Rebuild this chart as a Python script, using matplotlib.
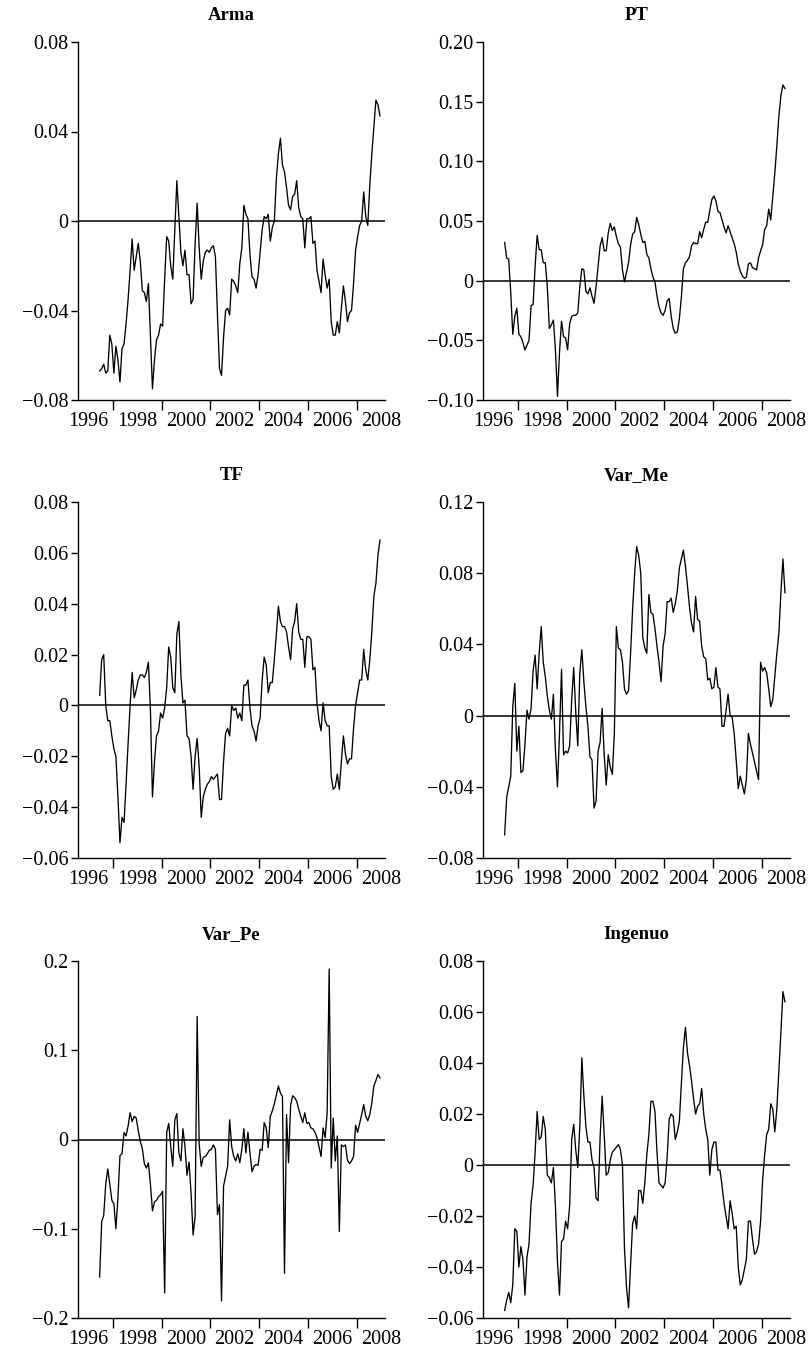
import matplotlib
matplotlib.use('Agg')
import matplotlib.pyplot as plt
import pandas as pd
from matplotlib.ticker import FixedLocator, FuncFormatter

plt.rcParams['font.family'] = ['Liberation Serif', 'DejaVu Serif']

# monthly observations, June 1996 .. December 2007
months = pd.period_range('1996-06', '2007-12', freq='M')
x = months.year + (months.month - 0.5) / 12

arma = [-0.067, -0.066, -0.064, -0.068, -0.067, -0.051, -0.055, -0.068, -0.056, -0.062,
        -0.072, -0.057, -0.055, -0.046, -0.035, -0.022, -0.008, -0.022, -0.016, -0.010,
        -0.018, -0.031, -0.032, -0.036, -0.028, -0.052, -0.075, -0.062, -0.053, -0.051,
        -0.046, -0.047, -0.026, -0.007, -0.009, -0.020, -0.026, -0.004, 0.018, 0.002,
        -0.014, -0.020, -0.013, -0.024, -0.024, -0.037, -0.035, -0.010, 0.008, -0.012,
        -0.026, -0.018, -0.014, -0.013, -0.014, -0.012, -0.011, -0.016, -0.042, -0.066,
        -0.069, -0.052, -0.040, -0.039, -0.042, -0.026, -0.027, -0.029, -0.032, -0.019,
        -0.012, 0.007, 0.003, 0.001, -0.015, -0.025, -0.026, -0.030, -0.024, -0.014,
        -0.004, 0.002, 0.001, 0.003, -0.009, -0.003, 0.000, 0.019, 0.030, 0.037,
        0.025, 0.022, 0.015, 0.007, 0.005, 0.011, 0.012, 0.018, 0.006, 0.002,
        0.001, -0.012, 0.001, 0.001, 0.002, -0.010, -0.009, -0.022, -0.027, -0.032,
        -0.017, -0.024, -0.030, -0.026, -0.045, -0.051, -0.051, -0.045, -0.050, -0.039,
        -0.029, -0.036, -0.045, -0.041, -0.040, -0.028, -0.013, -0.007, -0.002, 0.000,
        0.013, 0.002, -0.002, 0.016, 0.030, 0.042, 0.054, 0.052, 0.047]

pt = [0.032, 0.019, 0.018, -0.010, -0.045, -0.030, -0.023, -0.045, -0.047, -0.052,
      -0.058, -0.054, -0.050, -0.021, -0.020, 0.012, 0.038, 0.026, 0.026, 0.015,
      0.015, -0.005, -0.040, -0.037, -0.033, -0.058, -0.097, -0.060, -0.034, -0.047,
      -0.048, -0.058, -0.036, -0.030, -0.029, -0.029, -0.027, -0.005, 0.010, 0.009,
      -0.009, -0.011, -0.006, -0.013, -0.019, -0.005, 0.012, 0.029, 0.036, 0.025,
      0.025, 0.040, 0.048, 0.042, 0.045, 0.037, 0.031, 0.028, 0.009, -0.001,
      0.007, 0.015, 0.030, 0.039, 0.041, 0.053, 0.047, 0.039, 0.032, 0.033,
      0.022, 0.019, 0.010, 0.003, -0.001, -0.013, -0.022, -0.027, -0.029, -0.025,
      -0.017, -0.015, -0.030, -0.040, -0.044, -0.043, -0.032, -0.014, 0.010, 0.015,
      0.017, 0.020, 0.029, 0.032, 0.031, 0.031, 0.041, 0.036, 0.043, 0.049,
      0.049, 0.059, 0.068, 0.071, 0.067, 0.058, 0.057, 0.051, 0.045, 0.040,
      0.046, 0.041, 0.036, 0.031, 0.024, 0.014, 0.008, 0.004, 0.002, 0.003,
      0.014, 0.015, 0.011, 0.010, 0.009, 0.019, 0.025, 0.030, 0.043, 0.046,
      0.060, 0.051, 0.071, 0.090, 0.113, 0.138, 0.155, 0.164, 0.161]

tf = [0.004, 0.018, 0.020, 0.000, -0.006, -0.006, -0.012, -0.017, -0.020, -0.036,
      -0.054, -0.044, -0.046, -0.031, -0.015, 0.000, 0.013, 0.003, 0.006, 0.010,
      0.012, 0.012, 0.011, 0.013, 0.017, -0.002, -0.036, -0.022, -0.012, -0.010,
      -0.003, -0.005, -0.001, 0.007, 0.023, 0.019, 0.007, 0.005, 0.028, 0.033,
      0.012, 0.001, 0.002, -0.012, -0.013, -0.020, -0.033, -0.020, -0.013, -0.024,
      -0.044, -0.036, -0.033, -0.031, -0.030, -0.028, -0.029, -0.028, -0.027, -0.037,
      -0.037, -0.022, -0.011, -0.009, -0.012, 0.000, -0.002, -0.001, -0.005, -0.003,
      -0.006, 0.008, 0.008, 0.010, -0.001, -0.008, -0.010, -0.014, -0.008, -0.005,
      0.010, 0.019, 0.016, 0.005, 0.009, 0.009, 0.018, 0.028, 0.039, 0.033,
      0.031, 0.031, 0.029, 0.023, 0.018, 0.030, 0.033, 0.040, 0.029, 0.026,
      0.026, 0.015, 0.027, 0.027, 0.026, 0.014, 0.015, 0.001, -0.006, -0.010,
      0.001, -0.006, -0.008, -0.008, -0.028, -0.033, -0.032, -0.027, -0.033, -0.022,
      -0.012, -0.019, -0.023, -0.021, -0.021, -0.009, 0.000, 0.005, 0.010, 0.010,
      0.022, 0.014, 0.010, 0.018, 0.029, 0.043, 0.048, 0.059, 0.065]

var_me = [-0.067, -0.046, -0.040, -0.034, 0.005, 0.018, -0.020, -0.006, -0.032, -0.031,
          -0.016, 0.003, -0.002, 0.004, 0.025, 0.034, 0.015, 0.035, 0.050, 0.030,
          0.022, 0.011, 0.003, -0.002, 0.012, -0.020, -0.040, -0.010, 0.026, -0.022,
          -0.020, -0.021, -0.017, 0.009, 0.027, 0.002, -0.017, 0.024, 0.037, 0.019,
          0.005, -0.006, -0.023, -0.025, -0.052, -0.048, -0.020, -0.015, 0.004, -0.022,
          -0.039, -0.022, -0.029, -0.033, -0.010, 0.050, 0.038, 0.037, 0.030, 0.015,
          0.012, 0.014, 0.035, 0.060, 0.080, 0.095, 0.090, 0.080, 0.044, 0.038,
          0.035, 0.068, 0.058, 0.057, 0.049, 0.039, 0.030, 0.019, 0.039, 0.046,
          0.064, 0.064, 0.066, 0.058, 0.063, 0.070, 0.083, 0.088, 0.093, 0.084,
          0.073, 0.061, 0.052, 0.047, 0.067, 0.054, 0.053, 0.039, 0.033, 0.032,
          0.020, 0.021, 0.015, 0.016, 0.027, 0.016, 0.015, -0.006, -0.006, 0.003,
          0.012, 0.000, -0.001, -0.010, -0.025, -0.041, -0.034, -0.039, -0.044, -0.036,
          -0.010, -0.016, -0.021, -0.026, -0.031, -0.036, 0.030, 0.025, 0.027, 0.024,
          0.015, 0.005, 0.009, 0.022, 0.035, 0.046, 0.069, 0.088, 0.069]

var_pe = [-0.154, -0.092, -0.085, -0.050, -0.033, -0.050, -0.068, -0.072, -0.100, -0.065,
          -0.018, -0.016, 0.008, 0.004, 0.015, 0.030, 0.020, 0.026, 0.024, 0.010,
          -0.002, -0.010, -0.027, -0.032, -0.026, -0.050, -0.080, -0.070, -0.068, -0.064,
          -0.062, -0.058, -0.172, 0.008, 0.018, -0.008, -0.030, 0.022, 0.029, -0.015,
          -0.024, 0.012, -0.008, -0.040, -0.025, -0.060, -0.107, -0.086, 0.138, -0.005,
          -0.030, -0.020, -0.019, -0.016, -0.012, -0.011, -0.006, -0.011, -0.084, -0.073,
          -0.181, -0.052, -0.041, -0.030, 0.022, -0.008, -0.019, -0.024, -0.016, -0.026,
          -0.011, 0.012, -0.015, 0.008, -0.015, -0.036, -0.030, -0.028, -0.029, -0.011,
          -0.012, 0.019, 0.013, -0.009, 0.026, 0.032, 0.040, 0.050, 0.060, 0.052,
          0.048, -0.150, 0.028, -0.026, 0.038, 0.049, 0.047, 0.043, 0.034, 0.026,
          0.019, 0.030, 0.018, 0.019, 0.013, 0.012, 0.008, 0.002, -0.008, -0.019,
          0.013, 0.002, 0.030, 0.191, -0.032, 0.024, -0.024, 0.004, -0.103, -0.006,
          -0.008, -0.006, -0.023, -0.027, -0.024, -0.019, 0.016, 0.008, 0.018, 0.028,
          0.039, 0.026, 0.021, 0.028, 0.041, 0.060, 0.066, 0.073, 0.069]

ingenuo = [-0.057, -0.053, -0.050, -0.054, -0.047, -0.025, -0.026, -0.040, -0.032, -0.037,
           -0.051, -0.036, -0.031, -0.015, -0.008, 0.005, 0.021, 0.010, 0.011, 0.019,
           0.014, -0.004, -0.005, -0.007, -0.001, -0.016, -0.038, -0.051, -0.030, -0.029,
           -0.022, -0.025, -0.016, 0.010, 0.016, 0.006, -0.001, 0.015, 0.042, 0.027,
           0.015, 0.009, 0.009, 0.002, -0.001, -0.013, -0.014, 0.011, 0.027, 0.012,
           -0.004, -0.003, 0.002, 0.005, 0.006, 0.007, 0.008, 0.006, 0.000, -0.033,
           -0.048, -0.056, -0.039, -0.023, -0.020, -0.025, -0.010, -0.010, -0.015, -0.007,
           0.004, 0.012, 0.025, 0.025, 0.021, 0.005, -0.007, -0.008, -0.009, -0.007,
           0.003, 0.018, 0.020, 0.019, 0.010, 0.013, 0.017, 0.032, 0.046, 0.054,
           0.044, 0.039, 0.033, 0.026, 0.020, 0.023, 0.024, 0.030, 0.020, 0.014,
           0.010, -0.004, 0.006, 0.009, 0.009, -0.002, -0.002, -0.008, -0.015, -0.020,
           -0.025, -0.014, -0.019, -0.025, -0.024, -0.040, -0.047, -0.045, -0.041, -0.037,
           -0.022, -0.022, -0.029, -0.035, -0.034, -0.031, -0.022, -0.006, 0.004, 0.012,
           0.014, 0.024, 0.022, 0.013, 0.022, 0.037, 0.052, 0.068, 0.064]

titles = ["Arma", "PT", "TF", "Var_Me", "Var_Pe", "Ingenuo"]
series = [arma, pt, tf, var_me, var_pe, ingenuo]
yticks = [
    [-0.08, -0.04, 0, 0.04, 0.08],
    [-0.10, -0.05, 0, 0.05, 0.10, 0.15, 0.20],
    [-0.06, -0.04, -0.02, 0, 0.02, 0.04, 0.06, 0.08],
    [-0.08, -0.04, 0, 0.04, 0.08, 0.12],
    [-0.2, -0.1, 0, 0.1, 0.2],
    [-0.06, -0.04, -0.02, 0, 0.02, 0.04, 0.06, 0.08],
]
decimals = [2, 2, 2, 2, 1, 2]
year_labels = [1996, 1998, 2000, 2002, 2004, 2006, 2008]
year_ticks = list(range(1996, 2008))

W, H = 808, 1353
fig = plt.figure(figsize=(W / 100, H / 100), dpi=100)

col_left = [78, 483]
ax_w = 307
rows = [(42, 400), (502, 858), (961, 1318)]


def make_fmt(d):
    def f(v, pos):
        if abs(v) < 1e-12:
            return "0"
        s = f"{abs(v):.{d}f}"
        return ("\u2212" + s) if v < 0 else s
    return f


for k in range(6):
    r, c = divmod(k, 2)
    top, bot = rows[r]
    ax = fig.add_axes([col_left[c] / W, 1 - bot / H, ax_w / W, (bot - top) / H])
    ax.plot(x, series[k], color='black', lw=0.95)
    ax.axhline(0, color='black', lw=1.1)
    ax.set_xlim(1995.57, 2008.165)
    ax.set_ylim(yticks[k][0], yticks[k][-1])
    ax.yaxis.set_major_locator(FixedLocator(yticks[k]))
    ax.yaxis.set_major_formatter(FuncFormatter(make_fmt(decimals[k])))
    ax.xaxis.set_major_locator(FixedLocator(year_labels))
    ax.xaxis.set_major_formatter(FuncFormatter(lambda v, p: f"{int(round(v))}"))
    ax.xaxis.set_minor_locator(FixedLocator(year_ticks))
    ax.tick_params(axis='x', which='major', length=0, pad=9, labelsize=14.5)
    ax.tick_params(axis='x', which='minor', length=7, width=1.0, direction='out')
    ax.tick_params(axis='y', which='major', length=5, width=1.0, pad=2, labelsize=14.5)
    for s in ['top', 'right']:
        ax.spines[s].set_visible(False)
    for s in ['left', 'bottom']:
        ax.spines[s].set_linewidth(1.0)
    ax.set_title(titles[k], fontsize=13.5, fontweight='bold', pad=16)

fig.savefig('out.png', dpi=100)
